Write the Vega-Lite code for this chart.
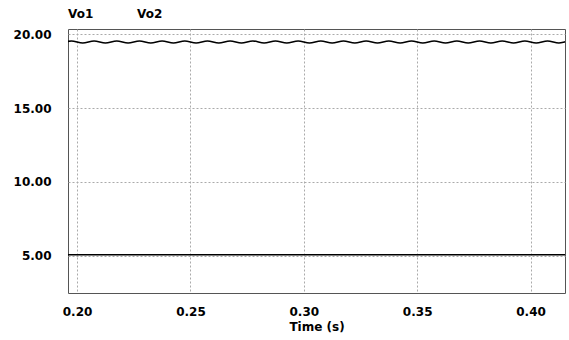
{
  "$schema": "https://vega.github.io/schema/vega-lite/v6.json",
  "width": 497,
  "height": 264,
  "autosize": "none",
  "padding": {"left": 68, "top": 29, "right": 4, "bottom": 47},
  "background": "white",
  "config": {
    "view": {"stroke": "#555555", "strokeWidth": 1},
    "font": "DejaVu Sans",
    "axis": {
      "labelFont": "DejaVu Sans",
      "labelFontWeight": "bold",
      "labelFontSize": 12,
      "labelColor": "black",
      "titleFont": "DejaVu Sans",
      "titleFontWeight": "bold",
      "titleFontSize": 12,
      "titleColor": "black",
      "ticks": false,
      "domain": false,
      "grid": true,
      "gridColor": "#aaaaaa",
      "gridDash": [2, 2],
      "gridWidth": 1
    },
    "legend": {
      "orient": "none",
      "legendX": -12,
      "legendY": -21,
      "direction": "horizontal",
      "title": null,
      "symbolSize": 0,
      "symbolStrokeWidth": 0,
      "symbolOpacity": 0,
      "labelOffset": 0,
      "labelFont": "DejaVu Sans",
      "labelFontWeight": "bold",
      "labelFontSize": 12,
      "labelColor": "black",
      "columnPadding": 31
    }
  },
  "data": {
    "values": [
      {"t": 0.19, "v": 5.06, "s": "Vo1"},
      {"t": 0.42, "v": 5.06, "s": "Vo1"},
      {"t": 0.195, "v": 19.48, "s": "Vo2"},
      {"t": 0.1975, "v": 19.55, "s": "Vo2"},
      {"t": 0.2, "v": 19.48, "s": "Vo2"},
      {"t": 0.2025, "v": 19.41, "s": "Vo2"},
      {"t": 0.205, "v": 19.48, "s": "Vo2"},
      {"t": 0.2075, "v": 19.55, "s": "Vo2"},
      {"t": 0.21, "v": 19.48, "s": "Vo2"},
      {"t": 0.2125, "v": 19.41, "s": "Vo2"},
      {"t": 0.215, "v": 19.48, "s": "Vo2"},
      {"t": 0.2175, "v": 19.55, "s": "Vo2"},
      {"t": 0.22, "v": 19.48, "s": "Vo2"},
      {"t": 0.2225, "v": 19.41, "s": "Vo2"},
      {"t": 0.225, "v": 19.48, "s": "Vo2"},
      {"t": 0.2275, "v": 19.55, "s": "Vo2"},
      {"t": 0.23, "v": 19.48, "s": "Vo2"},
      {"t": 0.2325, "v": 19.41, "s": "Vo2"},
      {"t": 0.235, "v": 19.48, "s": "Vo2"},
      {"t": 0.2375, "v": 19.55, "s": "Vo2"},
      {"t": 0.24, "v": 19.48, "s": "Vo2"},
      {"t": 0.2425, "v": 19.41, "s": "Vo2"},
      {"t": 0.245, "v": 19.48, "s": "Vo2"},
      {"t": 0.2475, "v": 19.55, "s": "Vo2"},
      {"t": 0.25, "v": 19.48, "s": "Vo2"},
      {"t": 0.2525, "v": 19.41, "s": "Vo2"},
      {"t": 0.255, "v": 19.48, "s": "Vo2"},
      {"t": 0.2575, "v": 19.55, "s": "Vo2"},
      {"t": 0.26, "v": 19.48, "s": "Vo2"},
      {"t": 0.2625, "v": 19.41, "s": "Vo2"},
      {"t": 0.265, "v": 19.48, "s": "Vo2"},
      {"t": 0.2675, "v": 19.55, "s": "Vo2"},
      {"t": 0.27, "v": 19.48, "s": "Vo2"},
      {"t": 0.2725, "v": 19.41, "s": "Vo2"},
      {"t": 0.275, "v": 19.48, "s": "Vo2"},
      {"t": 0.2775, "v": 19.55, "s": "Vo2"},
      {"t": 0.28, "v": 19.48, "s": "Vo2"},
      {"t": 0.2825, "v": 19.41, "s": "Vo2"},
      {"t": 0.285, "v": 19.48, "s": "Vo2"},
      {"t": 0.2875, "v": 19.55, "s": "Vo2"},
      {"t": 0.29, "v": 19.48, "s": "Vo2"},
      {"t": 0.2925, "v": 19.41, "s": "Vo2"},
      {"t": 0.295, "v": 19.48, "s": "Vo2"},
      {"t": 0.2975, "v": 19.55, "s": "Vo2"},
      {"t": 0.3, "v": 19.48, "s": "Vo2"},
      {"t": 0.3025, "v": 19.41, "s": "Vo2"},
      {"t": 0.305, "v": 19.48, "s": "Vo2"},
      {"t": 0.3075, "v": 19.55, "s": "Vo2"},
      {"t": 0.31, "v": 19.48, "s": "Vo2"},
      {"t": 0.3125, "v": 19.41, "s": "Vo2"},
      {"t": 0.315, "v": 19.48, "s": "Vo2"},
      {"t": 0.3175, "v": 19.55, "s": "Vo2"},
      {"t": 0.32, "v": 19.48, "s": "Vo2"},
      {"t": 0.3225, "v": 19.41, "s": "Vo2"},
      {"t": 0.325, "v": 19.48, "s": "Vo2"},
      {"t": 0.3275, "v": 19.55, "s": "Vo2"},
      {"t": 0.33, "v": 19.48, "s": "Vo2"},
      {"t": 0.3325, "v": 19.41, "s": "Vo2"},
      {"t": 0.335, "v": 19.48, "s": "Vo2"},
      {"t": 0.3375, "v": 19.55, "s": "Vo2"},
      {"t": 0.34, "v": 19.48, "s": "Vo2"},
      {"t": 0.3425, "v": 19.41, "s": "Vo2"},
      {"t": 0.345, "v": 19.48, "s": "Vo2"},
      {"t": 0.3475, "v": 19.55, "s": "Vo2"},
      {"t": 0.35, "v": 19.48, "s": "Vo2"},
      {"t": 0.3525, "v": 19.41, "s": "Vo2"},
      {"t": 0.355, "v": 19.48, "s": "Vo2"},
      {"t": 0.3575, "v": 19.55, "s": "Vo2"},
      {"t": 0.36, "v": 19.48, "s": "Vo2"},
      {"t": 0.3625, "v": 19.41, "s": "Vo2"},
      {"t": 0.365, "v": 19.48, "s": "Vo2"},
      {"t": 0.3675, "v": 19.55, "s": "Vo2"},
      {"t": 0.37, "v": 19.48, "s": "Vo2"},
      {"t": 0.3725, "v": 19.41, "s": "Vo2"},
      {"t": 0.375, "v": 19.48, "s": "Vo2"},
      {"t": 0.3775, "v": 19.55, "s": "Vo2"},
      {"t": 0.38, "v": 19.48, "s": "Vo2"},
      {"t": 0.3825, "v": 19.41, "s": "Vo2"},
      {"t": 0.385, "v": 19.48, "s": "Vo2"},
      {"t": 0.3875, "v": 19.55, "s": "Vo2"},
      {"t": 0.39, "v": 19.48, "s": "Vo2"},
      {"t": 0.3925, "v": 19.41, "s": "Vo2"},
      {"t": 0.395, "v": 19.48, "s": "Vo2"},
      {"t": 0.3975, "v": 19.55, "s": "Vo2"},
      {"t": 0.4, "v": 19.48, "s": "Vo2"},
      {"t": 0.4025, "v": 19.41, "s": "Vo2"},
      {"t": 0.405, "v": 19.48, "s": "Vo2"},
      {"t": 0.4075, "v": 19.55, "s": "Vo2"},
      {"t": 0.41, "v": 19.48, "s": "Vo2"},
      {"t": 0.4125, "v": 19.41, "s": "Vo2"},
      {"t": 0.415, "v": 19.48, "s": "Vo2"},
      {"t": 0.4175, "v": 19.55, "s": "Vo2"}
    ]
  },
  "mark": {"type": "line", "interpolate": "natural", "strokeWidth": 1.6, "clip": true},
  "encoding": {
    "x": {
      "field": "t",
      "type": "quantitative",
      "title": "Time (s)",
      "scale": {"domain": [0.196, 0.4152], "nice": false, "zero": false},
      "axis": {"values": [0.2, 0.25, 0.3, 0.35, 0.4], "format": ".2f", "labelPadding": 13, "titlePadding": 4}
    },
    "y": {
      "field": "v",
      "type": "quantitative",
      "title": null,
      "scale": {"domain": [2.47, 20.36], "nice": false, "zero": false},
      "axis": {"values": [5, 10, 15, 20], "format": ".2f", "labelPadding": 17}
    },
    "color": {
      "field": "s",
      "type": "nominal",
      "scale": {"domain": ["Vo1", "Vo2"], "range": ["black", "black"]}
    }
  }
}
